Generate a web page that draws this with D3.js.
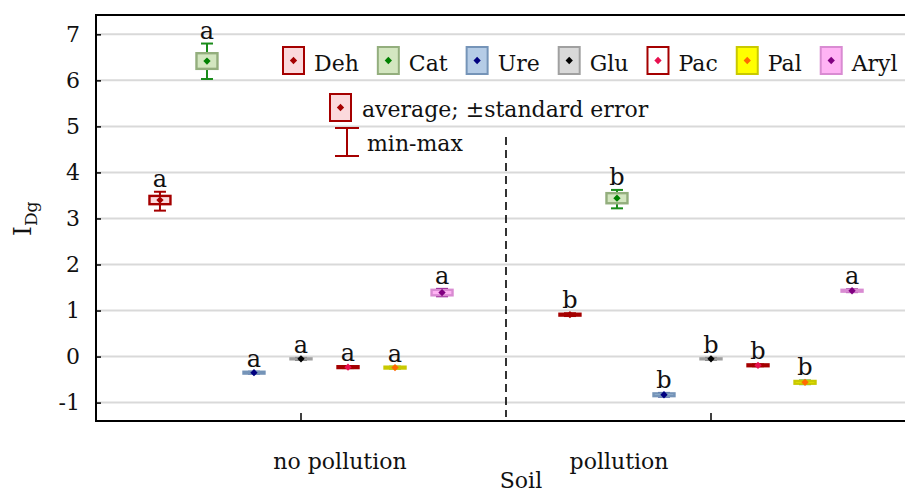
<!DOCTYPE html>
<html><head><meta charset="utf-8">
<script src="https://cdn.jsdelivr.net/npm/d3@7"></script>
<style>body{margin:0;background:#fff}svg{display:block}text{font-family:"DejaVu Serif",serif;fill:#111}</style>
</head><body><svg id="c" width="905" height="495"></svg>
<script>
// ---- data ----
const categories = ["no pollution", "pollution"];
const series = ["Deh", "Cat", "Ure", "Glu", "Pac", "Pal", "Aryl"];
const meanNoPol = [3.40, 6.42, -0.35, -0.05, -0.23, -0.24, 1.39];
const seNoPol   = [0.09, 0.17, 0.02, 0.01, 0.02, 0.02, 0.06];
const minNoPol  = [3.17, 6.03, -0.37, -0.07, -0.25, -0.26, 1.31];
const maxNoPol  = [3.58, 6.80, -0.33, -0.03, -0.21, -0.22, 1.47];
const letterNoPol = ["a", "a", "a", "a", "a", "a", "a"];
const meanPol = [0.91, 3.44, -0.83, -0.05, -0.19, -0.56, 1.43];
const sePol   = [0.02, 0.11, 0.03, 0.01, 0.02, 0.03, 0.02];
const minPol  = [0.88, 3.22, -0.87, -0.07, -0.21, -0.60, 1.40];
const maxPol  = [0.94, 3.62, -0.79, -0.03, -0.17, -0.52, 1.46];
const letterPol = ["b", "b", "b", "b", "b", "b", "a"];
const yTicks = [-1, 0, 1, 2, 3, 4, 5, 6, 7];
const yTickLabels = ["-1", "0", "1", "2", "3", "4", "5", "6", "7"];
const yTitle = "I", yTitleSub = "Dg", xTitle = "Soil";
const legendNotes = ["average; ±standard error", "min-max"];

// ---- styles ----
const boxFill   = ["#fbd9dc", "#d3e6c0", "#b5cce6", "#d9d9d9", "#ffffff", "#ffff00", "#ffb3f4"];
const boxStroke = ["#a50000", "#93ae7d", "#7594b8", "#a0a0a0", "#a50000", "#c9c900", "#d98bd2"];
const dotColor  = ["#a50000", "#008000", "#000080", "#000000", "#e8104f", "#ff6a00", "#800080"];
const whiskColor= ["#a50000", "#1a8c1a", "#1b2f8a", "#555555", "#a50000", "#3a9a3a", "#800080"];

const groups = [
  {cat: categories[0], mean: meanNoPol, se: seNoPol, min: minNoPol, max: maxNoPol, letter: letterNoPol},
  {cat: categories[1], mean: meanPol, se: sePol, min: minPol, max: maxPol, letter: letterPol}
];
const rows = [];
groups.forEach(g => series.forEach((s, i) => rows.push({
  cat: g.cat, s, i, mean: g.mean[i], se: g.se[i], min: g.min[i], max: g.max[i], letter: g.letter[i]
})));

// ---- layout ----
const L = 96, R = 916, T = 15, B = 421;
const svg = d3.select("#c");
const x = d3.scaleBand().domain(categories).range([L, R]);
const bw = x.bandwidth();
const xs = d3.scalePoint().domain(series).range([-0.344 * bw, 0.344 * bw]);
const y = d3.scaleLinear().domain([-1.4, 7.42]).range([B, T]);
const cx = d => x(d.cat) + bw / 2 + xs(d.s);
const boxW = 21, capW = 12;

// gridlines
svg.append("g").selectAll("line").data(yTicks).join("line")
  .attr("x1", L).attr("x2", R).attr("y1", d => y(d)).attr("y2", d => y(d))
  .attr("stroke", "#d9d9d9").attr("stroke-width", 2);

// dashed separator
svg.append("line").attr("x1", x(categories[1])).attr("x2", x(categories[1]))
  .attr("y1", 137).attr("y2", B - 4)
  .attr("stroke", "#000").attr("stroke-width", 1.6).attr("stroke-dasharray", "8,5");

// whiskers
const wg = svg.append("g").selectAll("g").data(rows).join("g")
  .attr("stroke", d => whiskColor[d.i]).attr("stroke-width", 2);
wg.append("line").attr("x1", cx).attr("x2", cx).attr("y1", d => y(d.max)).attr("y2", d => y(d.min));
wg.append("line").attr("x1", d => cx(d) - capW / 2).attr("x2", d => cx(d) + capW / 2)
  .attr("y1", d => y(d.max)).attr("y2", d => y(d.max));
wg.append("line").attr("x1", d => cx(d) - capW / 2).attr("x2", d => cx(d) + capW / 2)
  .attr("y1", d => y(d.min)).attr("y2", d => y(d.min));

// boxes
svg.append("g").selectAll("rect").data(rows).join("rect")
  .attr("x", d => cx(d) - boxW / 2).attr("width", boxW)
  .attr("y", d => y(d.mean + d.se)).attr("height", d => Math.max(0.5, y(d.mean - d.se) - y(d.mean + d.se)))
  .attr("fill", d => boxFill[d.i]).attr("stroke", d => boxStroke[d.i]).attr("stroke-width", 2.4);

// means
const diamond = d3.symbol().type(d3.symbolDiamond2).size(34);
svg.append("g").selectAll("path").data(rows).join("path")
  .attr("d", diamond).attr("transform", d => `translate(${cx(d)},${y(d.mean)})`)
  .attr("fill", d => dotColor[d.i]);

// letters
svg.append("g").selectAll("text").data(rows).join("text")
  .attr("x", cx).attr("y", d => y(d.max) - 5).attr("text-anchor", "middle")
  .style("font-size", "24px").text(d => d.letter);

// frame
svg.append("rect").attr("x", L).attr("y", T).attr("width", R - L).attr("height", B - T)
  .attr("fill", "none").attr("stroke", "#000").attr("stroke-width", 2);

// axes
const ya = svg.append("g").attr("transform", `translate(${L},0)`)
  .call(d3.axisLeft(y).tickValues(yTicks).tickFormat((d, i) => yTickLabels[i])
    .tickSize(-5).tickSizeOuter(0).tickPadding(16));
ya.select(".domain").remove();
ya.selectAll("line").attr("stroke", "#000").attr("stroke-width", 1.5);
ya.selectAll("text").style("font-size", "22px").attr("font-family", null).attr("fill", "#111");

const xa = svg.append("g").attr("transform", `translate(0,${B})`)
  .call(d3.axisBottom(x).tickSize(-8).tickSizeOuter(0).tickPadding(32));
xa.select(".domain").remove();
xa.selectAll("line").attr("stroke", "#000").attr("stroke-width", 1.5);
const xLabelShift = [39, -92];
xa.selectAll("text").style("font-size", "22px").attr("font-family", null).attr("fill", "#111")
  .attr("dx", (d, i) => xLabelShift[i]);

// axis titles
svg.append("text").attr("x", 521).attr("y", 488).attr("text-anchor", "middle")
  .style("font-size", "22px").text(xTitle);
const yt = svg.append("text").attr("transform", "translate(31,236) rotate(-90)")
  .style("font-size", "25px");
yt.append("tspan").text(yTitle);
yt.append("tspan").attr("dy", 6).style("font-size", "17px").text(yTitleSub);

// legend
const lg = svg.append("g");
let lx = 283;
series.forEach((s, i) => {
  lg.append("rect").attr("x", lx).attr("y", 47).attr("width", 21).attr("height", 27)
    .attr("fill", boxFill[i]).attr("stroke", boxStroke[i]).attr("stroke-width", 2);
  lg.append("path").attr("d", diamond).attr("transform", `translate(${lx + 10.5},${60.5})`)
    .attr("fill", dotColor[i]);
  const t = lg.append("text").attr("x", lx + 31).attr("y", 71).style("font-size", "22px").text(s);
  lx += 31 + t.node().getComputedTextLength() + 19;
});
lg.append("rect").attr("x", 330).attr("y", 94).attr("width", 21).attr("height", 27)
  .attr("fill", boxFill[0]).attr("stroke", boxStroke[0]).attr("stroke-width", 2);
lg.append("path").attr("d", diamond).attr("transform", "translate(340.5,107.5)").attr("fill", dotColor[0]);
lg.append("text").attr("x", 362).attr("y", 117).style("font-size", "22px").text(legendNotes[0]);
lg.append("line").attr("x1", 347).attr("x2", 347).attr("y1", 128).attr("y2", 156)
  .attr("stroke", whiskColor[0]).attr("stroke-width", 2);
lg.append("line").attr("x1", 335).attr("x2", 359).attr("y1", 128).attr("y2", 128)
  .attr("stroke", whiskColor[0]).attr("stroke-width", 2);
lg.append("line").attr("x1", 335).attr("x2", 359).attr("y1", 156).attr("y2", 156)
  .attr("stroke", whiskColor[0]).attr("stroke-width", 2);
lg.append("text").attr("x", 367).attr("y", 151).style("font-size", "22px").text(legendNotes[1]);
</script></body></html>
